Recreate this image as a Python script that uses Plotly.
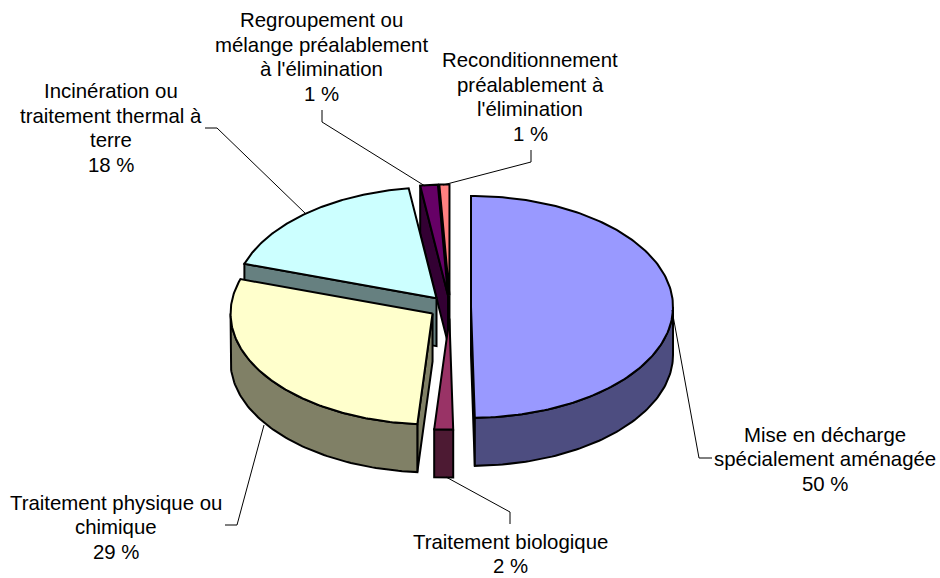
import numpy as np
import plotly.graph_objects as go

categories = ["Mise en décharge<br>spécialement aménagée<br>50 %",
              "Traitement biologique<br>2 %",
              "Traitement physique ou<br>chimique<br>29 %",
              "Incinération ou<br>traitement thermal à<br>terre<br>18 %",
              "Regroupement ou<br>mélange préalablement<br>à l'élimination<br>1 %",
              "Reconditionnement<br>préalablement à<br>l'élimination<br>1 %"]
values = [49.7, 1.5, 28.8, 17.8, 1.4, 0.8]
top_colors = ["#9999FF", "#993366", "#FFFFCC", "#CCFFFF", "#660066", "#FF8080"]
side_colors = ["#4D4D80", "#4D1A33", "#808066", "#668080", "#330033", "#804040"]
label_pos = [(825, 459), (510, 554), (116, 527), (111, 128), (321, 57), (530, 97)]
leaders = [[(672, 310), (699, 458), (712, 458)],
           [(446, 477), (510, 512), (510, 524)],
           [(264, 425), (237, 525), (225, 525)],
           [(306, 214), (217, 128), (205, 128)],
           [(425, 186), (322, 122), (322, 110)],
           [(443, 185), (531, 162), (531, 150)]]

CX, CY, RX, RY, DEPTH, EXPLODE = 450, 307, 202, 111, 48, 21
LINE_STEP = 24.5
draw_order = [5, 4, 3, 2, 0, 1]

fracs = np.cumsum([0] + values) / sum(values) * 360
fig = go.Figure()


def poly(xs, ys, color):
    fig.add_trace(go.Scatter(x=list(xs) + [xs[0]], y=list(ys) + [ys[0]], mode="lines", fill="toself",
                             fillcolor=color, line=dict(color="black", width=2),
                             hoverinfo="skip", showlegend=False))


for i in draw_order:
    a0, a1 = np.radians(fracs[i]), np.radians(fracs[i + 1])
    mid = (a0 + a1) / 2
    cx = CX + EXPLODE * np.sin(mid)
    cy = CY - EXPLODE * np.cos(mid) * RY / RX
    px = lambda a: cx + RX * np.sin(a)
    py = lambda a: cy - RY * np.cos(a)
    # radial walls facing the viewer
    if np.sin(a0) < 0:
        poly([cx, px(a0), px(a0), cx], [cy, py(a0), py(a0) + DEPTH, cy + DEPTH], side_colors[i])
    if np.sin(a1) > 0:
        poly([cx, px(a1), px(a1), cx], [cy, py(a1), py(a1) + DEPTH, cy + DEPTH], side_colors[i])
    # outer wall on the front half
    lo, hi = max(a0, np.pi / 2), min(a1, 1.5 * np.pi)
    if hi > lo:
        t = np.linspace(lo, hi, 80)
        poly(np.r_[px(t), px(t[::-1])], np.r_[py(t), py(t[::-1]) + DEPTH], side_colors[i])
    # top face
    t = np.linspace(a0, a1, 160)
    poly(np.r_[cx, px(t)], np.r_[cy, py(t)], top_colors[i])

for pts in leaders:
    fig.add_trace(go.Scatter(x=[p[0] for p in pts], y=[p[1] for p in pts], mode="lines",
                             line=dict(color="black", width=1), hoverinfo="skip", showlegend=False))

for text, (x, y) in zip(categories, label_pos):
    lines = text.split("<br>")
    for k, line in enumerate(lines):
        fig.add_annotation(x=x, y=y + (k - (len(lines) - 1) / 2) * LINE_STEP, text=line,
                           showarrow=False, align="center",
                           font=dict(family="Liberation Sans, Arial", size=20.4, color="black"))

fig.update_layout(width=940, height=578, margin=dict(l=0, r=0, t=0, b=0),
                  paper_bgcolor="white", plot_bgcolor="white",
                  xaxis=dict(range=[0, 940], visible=False, fixedrange=True),
                  yaxis=dict(range=[578, 0], visible=False, fixedrange=True))
fig.write_html("out.html", config=dict(displayModeBar=False),
               post_script="document.body.style.margin='0';document.body.style.overflow='hidden';")
